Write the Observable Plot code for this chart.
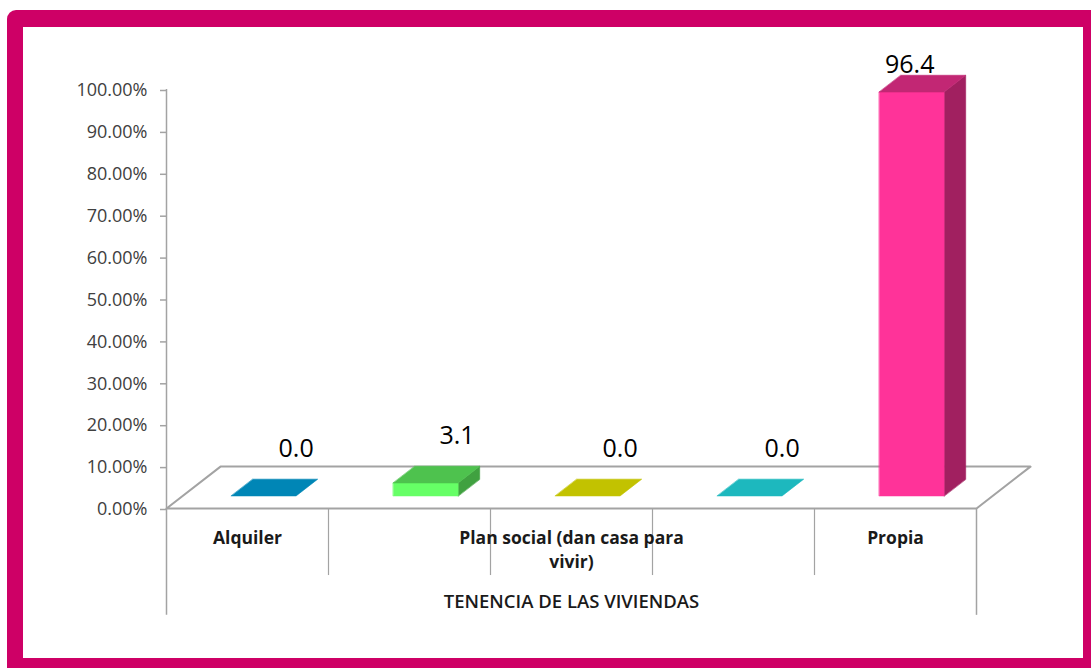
<!DOCTYPE html>
<html>
<head>
<meta charset="utf-8">
<script src="https://cdn.jsdelivr.net/npm/d3@7"></script>
<script src="https://cdn.jsdelivr.net/npm/@observablehq/plot@0.6"></script>
<style>
  html, body { margin: 0; padding: 0; overflow: hidden; background: #fff; }
  #frame {
    position: absolute; left: 7px; top: 10px; width: 1084px; height: 658px;
    background: #CE0066; border-top-left-radius: 9px;
  }
  #panel {
    position: absolute; left: 23px; top: 27px; width: 1060px; height: 631px;
    background: #fff;
  }
</style>
</head>
<body>
<div id="frame"></div>
<div id="panel"></div>
<script>
// Housing tenure, share of dwellings (%)
const categories = ["Alquiler", "", "Plan social (dan casa para vivir)", "", "Propia"];
const tickLabels = ["Alquiler", "", "Plan social (dan casa para\nvivir)", "", "Propia"];
const percentages = [0.0, 3.1, 0.0, 0.0, 96.4];
const yTicks = [0, 10, 20, 30, 40, 50, 60, 70, 80, 90, 100];
const axisTitle = "TENENCIA DE LAS VIVIENDAS";

// Front-face colour of each bar; top and side faces are shaded from it
const barColors = ["#00B0F0", "#66FF66", "#FFFF00", "#26F2FA", "#FF3399"];
const shade = (c, k) => { const r = d3.rgb(c); return d3.rgb(r.r * k, r.g * k, r.b * k).formatHex(); };

// 3D floor depth in scale units, and the depth slice the bars occupy
const depthX = 1 / 3, depthY = 10;
const f0 = 0.3, f1 = 0.7;
const barLeft = 0.3, barRight = 0.7;

const bars = categories.map((c, i) => ({i, category: c, value: percentages[i], color: barColors[i], label: tickLabels[i]}));

// Faces of each bar as closed polygons in data space
const faces = [];
for (const b of bars) {
  const ox0 = f0 * depthX, oy0 = f0 * depthY;
  const ox = (f1 - f0) * depthX, oy = (f1 - f0) * depthY;
  const xa = b.i + barLeft + ox0, xb = b.i + barRight + ox0;
  const v = b.value;
  const push = (name, color, pts) => pts.forEach(([x, y]) => faces.push({face: `${b.i}-${name}`, color, x, y}));
  if (v > 0) {
    push("side", shade(b.color, 0.63), [[xb, oy0], [xb, v + oy0], [xb + ox, v + oy0 + oy], [xb + ox, oy0 + oy]]);
    push("front", b.color, [[xa, oy0], [xb, oy0], [xb, v + oy0], [xa, v + oy0]]);
  }
  push("top", shade(b.color, 0.76), [[xa, v + oy0], [xb, v + oy0], [xb + ox, v + oy0 + oy], [xa + ox, v + oy0 + oy]]);
}

const n = categories.length;
const floor = [[0, 0], [n, 0], [n + depthX, depthY], [depthX, depthY]].map(([x, y]) => ({x, y}));
const gray = "#A3A3A3";

const chart = Plot.plot({
  width: 1060,
  height: 631,
  marginLeft: 143,
  marginRight: 107,
  marginTop: 62,
  marginBottom: 150,
  x: {domain: [0, n], axis: null},
  y: {domain: [0, 100], axis: null},
  style: {fontFamily: "'Open Sans', sans-serif", background: "transparent", overflow: "visible"},
  marks: [
    // floor
    Plot.line(floor, {x: "x", y: "y", curve: "linear-closed", fill: "#fff", stroke: gray, strokeWidth: 2}),
    // value axis
    Plot.axisY(yTicks, {
      tickFormat: d => d.toFixed(2) + "%",
      tickSize: 6, tickPadding: 13, fontSize: 18, dy: 1,
      stroke: gray, strokeWidth: 1.5, fill: "#404040", label: null
    }),
    Plot.ruleX([0], {y1: -25.5, y2: 100, stroke: gray, strokeWidth: 1.5}),
    Plot.ruleX([n], {y1: -25.5, y2: 0, stroke: gray, strokeWidth: 1.5}),
    Plot.ruleX(d3.range(1, n), {y1: -16, y2: 0, stroke: gray, strokeWidth: 1.2}),
    // bars
    Plot.line(faces, {x: "x", y: "y", z: "face", fill: "color", stroke: "color", strokeWidth: 0.6, curve: "linear-closed"}),
    // value labels, lifted above the top face and pulled in by the perspective
    Plot.text(bars, {
      x: d => d.i + 0.8 - 0.0022 * d.value,
      y: d => 12.4 + 0.95 * d.value,
      text: d => d.value.toFixed(1),
      lineAnchor: "bottom", fontSize: 25, fill: "#000"
    }),
    // category labels
    Plot.text(bars.filter(d => d.label), {
      x: d => d.i + 0.5, y: 0, text: "label",
      dy: 18, lineAnchor: "top", lineHeight: 1.38,
      fontSize: 17.5, fontWeight: "bold", fill: "#1a1a1a"
    }),
    // axis title
    Plot.text([axisTitle], {
      x: n / 2, y: 0, text: d => d, dy: 86, lineAnchor: "top",
      fontSize: 18.5, fontWeight: 600, fill: "#1a1a1a"
    })
  ]
});
document.getElementById("panel").append(chart);
</script>
</body>
</html>
